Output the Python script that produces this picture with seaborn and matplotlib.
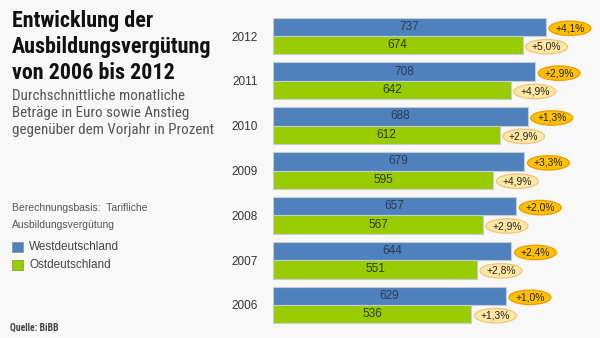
import matplotlib
matplotlib.use("Agg")
import matplotlib.pyplot as plt
import seaborn as sns
import pandas as pd
from matplotlib.patches import Ellipse, Rectangle
from matplotlib import font_manager as fm

years = ["2012", "2011", "2010", "2009", "2008", "2007", "2006"]
west = [737, 708, 688, 679, 657, 644, 629]
ost = [674, 642, 612, 595, 567, 551, 536]
west_pct = ["+4,1%", "+2,9%", "+1,3%", "+3,3%", "+2,0%", "+2,4%", "+1,0%"]
ost_pct = ["+5,0%", "+4,9%", "+2,9%", "+4,9%", "+2,9%", "+2,8%", "+1,3%"]
series = ["Westdeutschland", "Ostdeutschland"]

BLUE = "#4f81bd"
GREEN = "#99cc00"
BG = "#f8f8f8"

df = pd.DataFrame({
    "year": years * 2,
    "value": west + ost,
    "region": [series[0]] * len(years) + [series[1]] * len(years),
})

sns.set_theme(style="white")
plt.rcParams["font.family"] = ["Liberation Sans", "DejaVu Sans"]

# pick a condensed family if one exists
names = {f.name for f in fm.fontManager.ttflist}
narrow_fam, narrow_stretch = "Roboto", "normal"
for cand in ["Liberation Sans Narrow", "Roboto Condensed", "Open Sans Condensed",
             "DejaVu Sans Condensed", "Noto Sans Condensed"]:
    if cand in names:
        narrow_fam = cand
        break
else:
    for f in fm.fontManager.ttflist:
        if str(f.stretch).lower() in ("condensed", "semi-condensed", "semicondensed") \
                and f.name in ("DejaVu Sans", "Noto Sans", "Open Sans"):
            narrow_fam, narrow_stretch = f.name, f.stretch
            break
    else:
        if "Roboto" not in names:
            narrow_fam = "DejaVu Sans"
narrow = [narrow_fam, "DejaVu Sans"]

W, H = 600, 338
fig = plt.figure(figsize=(6, 3.38), dpi=100)
fig.patch.set_facecolor(BG)

ax_l, ax_b, ax_w, ax_h = 273 / W, (H - 327.4) / H, 327 / W, 313.8 / H
ax = fig.add_axes([ax_l, ax_b, ax_w, ax_h])
ax.set_facecolor(BG)

sns.barplot(data=df, y="year", x="value", hue="region", order=years,
            hue_order=series, palette=[BLUE, GREEN], orient="h",
            width=0.82, edgecolor="#c4ccd4", linewidth=0.8, ax=ax,
            legend=False, saturation=1)

XMAX = 883
ax.set_xlim(0, XMAX)
ax.set_ylim(6.5, -0.5)
ax.set_xlabel("")
ax.set_ylabel("")
ax.set_xticks([])
for s in ax.spines.values():
    s.set_visible(False)
ax.tick_params(axis="y", length=0, pad=11, labelsize=8.5, labelcolor="#333333")

ux = XMAX / (ax_w * W)
uy = 7.0 / (ax_h * H)

styles = [
    dict(txt="#2b3a55", fill="#ffc000", edge="#f29a00", pcts=west_pct),
    dict(txt="#2e3a10", fill="#ffe8a3", edge="#f5c27a", pcts=ost_pct),
]
for cont, st in zip(ax.containers, styles):
    for bar, pct in zip(cont, st["pcts"]):
        val = bar.get_width()
        yc = bar.get_y() + bar.get_height() / 2
        ax.text(val / 2, yc, f"{val:.0f}", ha="center", va="center",
                fontsize=8.5, color=st["txt"])
        ex = val + 24 * ux
        ey = yc + 1.5 * uy
        e = Ellipse((ex, ey), 42 * ux, 14.5 * uy, facecolor=st["fill"],
                    edgecolor=st["edge"], linewidth=0.9, clip_on=False, zorder=3)
        ax.add_patch(e)
        ax.text(ex, ey, pct, ha="center", va="center", fontsize=7.4,
                color="#222222", zorder=4)

renderer = fig.canvas.get_renderer()


def fitted_lines(lines, y_top, pitch, target_w, base_size, **kw):
    probe = fig.text(0, 0, max(lines, key=len), fontsize=base_size, **kw)
    w = probe.get_window_extent(renderer).width
    probe.remove()
    size = base_size * target_w / w
    for i, line in enumerate(lines):
        fig.text(12 / W, 1 - (y_top + i * pitch) / H, line, ha="left",
                 va="center", fontsize=size, **kw)


fitted_lines(["Entwicklung der", "Ausbildungsvergütung", "von 2006 bis 2012"],
             21, 26, 199, 15, fontweight="bold", family=narrow,
             fontstretch=narrow_stretch, color="#111111")
fitted_lines(["Durchschnittliche monatliche", "Beträge in Euro sowie Anstieg",
              "gegenüber dem Vorjahr in Prozent"],
             96, 17, 200, 11, family=narrow, fontstretch=narrow_stretch,
             color="#555555")

fig.text(12 / W, 1 - 208 / H, "Berechnungsbasis:  Tarifliche", ha="left",
         va="center", fontsize=7.5, color="#555555")
fig.text(12 / W, 1 - 225 / H, "Ausbildungsvergütung", ha="left",
         va="center", fontsize=7.5, color="#555555")

for i, (name, col) in enumerate(zip(series, [BLUE, GREEN])):
    yc = 247 + i * 18
    fig.patches.append(Rectangle((12 / W, 1 - (yc + 5) / H), 11 / W, 10 / H,
                                 transform=fig.transFigure, facecolor=col,
                                 edgecolor="#8a9aa8" if i == 0 else "#88aa22",
                                 linewidth=0.6))
    fig.text(29 / W, 1 - yc / H, name, ha="left", va="center",
             fontsize=8.5, color="#444444")

fig.text(10 / W, 1 - 328 / H, "Quelle: BiBB", ha="left", va="center",
         fontsize=7, fontweight="bold", family=narrow,
         fontstretch=narrow_stretch, color="#444444")

fig.savefig("out.png", dpi=100, facecolor=BG)
